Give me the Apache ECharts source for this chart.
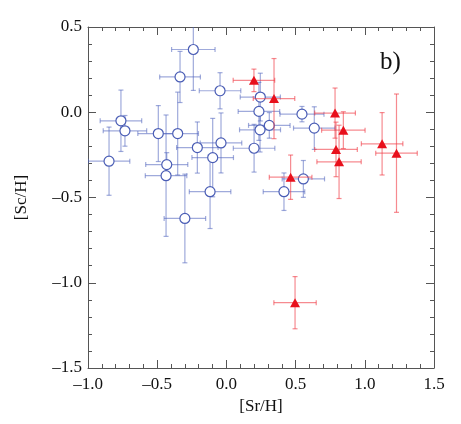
<!DOCTYPE html>
<html>
<head>
<meta charset="utf-8">
<script src="https://cdn.jsdelivr.net/npm/echarts@6/dist/echarts.min.js"></script>
<style>
  html, body { margin: 0; padding: 0; background: #fff; }
  #chart { width: 461px; height: 424px; }
</style>
</head>
<body>
<div id="chart"></div>
<script>
// blue open circles
const blueX = [-0.848, -0.762, -0.733, -0.492, -0.352, -0.431, -0.436, -0.335, -0.239, -0.046, -0.21, -0.039,
  -0.099, -0.118, -0.30, 0.20, 0.245, 0.235, 0.31, 0.243, 0.546, 0.635, 0.556, 0.416];
const blueY = [-0.287, -0.05, -0.109, -0.125, -0.125, -0.307, -0.372, 0.207, 0.368, 0.126, -0.207, -0.18,
  -0.266, -0.466, -0.623, -0.211, 0.089, 0.005, -0.077, -0.103, -0.011, -0.093, -0.391, -0.466];
const blueXErr = [0.15, 0.15, 0.157, 0.148, 0.15, 0.152, 0.15, 0.147, 0.157, 0.15, 0.15, 0.15,
  0.15, 0.15, 0.15, 0.15, 0.145, 0.15, 0.15, 0.148, 0.159, 0.15, 0.153, 0.15];
const blueYErr = [0.20, 0.18, 0.09, 0.164, 0.243, 0.07, 0.356, 0.15, 0.24, 0.106, 0.15, 0.176,
  0.23, 0.216, 0.26, 0.14, 0.14, 0.17, 0.075, 0.13, 0.045, 0.125, 0.108, 0.11];

// red filled triangles
const redX = [0.199, 0.344, 0.785, 0.845, 0.792, 0.814, 1.125, 1.229, 0.464, 0.496];
const redY = [0.187, 0.08, -0.005, -0.105, -0.218, -0.291, -0.185, -0.24, -0.381, -1.117];
const redXErr = [0.15, 0.15, 0.147, 0.157, 0.154, 0.16, 0.15, 0.15, 0.154, 0.153];
const redYErr = [0.066, 0.235, 0.147, 0.108, 0.16, 0.215, 0.183, 0.347, 0.13, 0.153];

const font = "'Liberation Serif', 'Times New Roman', Times, serif";
const axisColor = "#555";

function fmt(v) {
  const s = Math.abs(v).toFixed(1);
  return v < -1e-9 ? "\u2013" + s : s;
}

function rows(xs, ys, xe, ye) {
  return xs.map((x, i) => [x, ys[i], xe[i], ye[i]]);
}

// error bars with small caps
function errRender(color) {
  return function (params, api) {
    const x = api.value(0), y = api.value(1), dx = api.value(2), dy = api.value(3);
    const l = api.coord([x - dx, y]), r = api.coord([x + dx, y]);
    const t = api.coord([x, y + dy]), b = api.coord([x, y - dy]);
    const c = 2.5;
    const st = { stroke: color, lineWidth: 1.2 };
    const seg = (x1, y1, x2, y2) => ({ type: "line", shape: { x1, y1, x2, y2 }, style: st });
    return {
      type: "group",
      children: [
        seg(l[0], l[1], r[0], r[1]),
        seg(l[0], l[1] - c, l[0], l[1] + c),
        seg(r[0], r[1] - c, r[0], r[1] + c),
        seg(t[0], t[1], b[0], b[1]),
        seg(t[0] - c, t[1], t[0] + c, t[1]),
        seg(b[0] - c, b[1], b[0] + c, b[1])
      ]
    };
  };
}

const xAxisBase = {
  type: "value", min: -1.0, max: 1.5, interval: 0.5,
  axisLine: { show: true, onZero: false, lineStyle: { color: axisColor, width: 1 } },
  axisTick: { show: true, inside: true, length: 8, lineStyle: { color: axisColor } },
  minorTick: { show: true, splitNumber: 5, length: 4, lineStyle: { color: axisColor } },
  splitLine: { show: false }
};
const yAxisBase = {
  type: "value", min: -1.5, max: 0.5, interval: 0.5,
  axisLine: { show: true, onZero: false, lineStyle: { color: axisColor, width: 1 } },
  axisTick: { show: true, inside: true, length: 8, lineStyle: { color: axisColor } },
  minorTick: { show: true, splitNumber: 5, length: 4, lineStyle: { color: axisColor } },
  splitLine: { show: false }
};

const chart = echarts.init(document.getElementById("chart"));
chart.setOption({
  animation: false,
  backgroundColor: "#fff",
  grid: { left: 88, right: 27, top: 27, bottom: 56 },
  xAxis: [
    Object.assign({}, xAxisBase, {
      position: "bottom",
      name: "[Sr/H]", nameLocation: "middle", nameGap: 30,
      nameTextStyle: { fontFamily: font, fontSize: 17, color: "#111" },
      axisLabel: { formatter: fmt, margin: 8, fontFamily: font, fontSize: 17, color: "#111" }
    }),
    Object.assign({}, xAxisBase, { position: "top", axisLabel: { show: false } })
  ],
  yAxis: [
    Object.assign({}, yAxisBase, {
      position: "left",
      name: "[Sc/H]", nameLocation: "middle", nameGap: 58, nameRotate: 90,
      nameTextStyle: { fontFamily: font, fontSize: 17, color: "#111" },
      axisLabel: { formatter: fmt, margin: 6, fontFamily: font, fontSize: 17, color: "#111" }
    }),
    Object.assign({}, yAxisBase, { position: "right", axisLabel: { show: false } })
  ],
  graphic: [{
    type: "text", left: 380, top: 50,
    style: { text: "b)", fontFamily: font, fontSize: 25, fill: "#111" }
  }],
  series: [
    {
      type: "custom", name: "blueErr", renderItem: errRender("rgba(80,100,190,0.55)"), clip: true,
      data: rows(blueX, blueY, blueXErr, blueYErr), encode: { x: 0, y: 1 }, z: 2
    },
    {
      type: "scatter", name: "blue", symbol: "circle", symbolSize: 10,
      itemStyle: { color: "#fff", borderColor: "#4a5db5", borderWidth: 1.2, opacity: 1 },
      data: blueX.map((x, i) => [x, blueY[i]]), z: 3
    },
    {
      type: "custom", name: "redErr", renderItem: errRender("rgba(240,60,70,0.6)"), clip: true,
      data: rows(redX, redY, redXErr, redYErr), encode: { x: 0, y: 1 }, z: 4
    },
    {
      type: "scatter", name: "red", symbol: "triangle", symbolSize: [10, 9],
      itemStyle: { color: "#e8101c", opacity: 1 },
      data: redX.map((x, i) => [x, redY[i]]), z: 5
    }
  ]
});
</script>
</body>
</html>
